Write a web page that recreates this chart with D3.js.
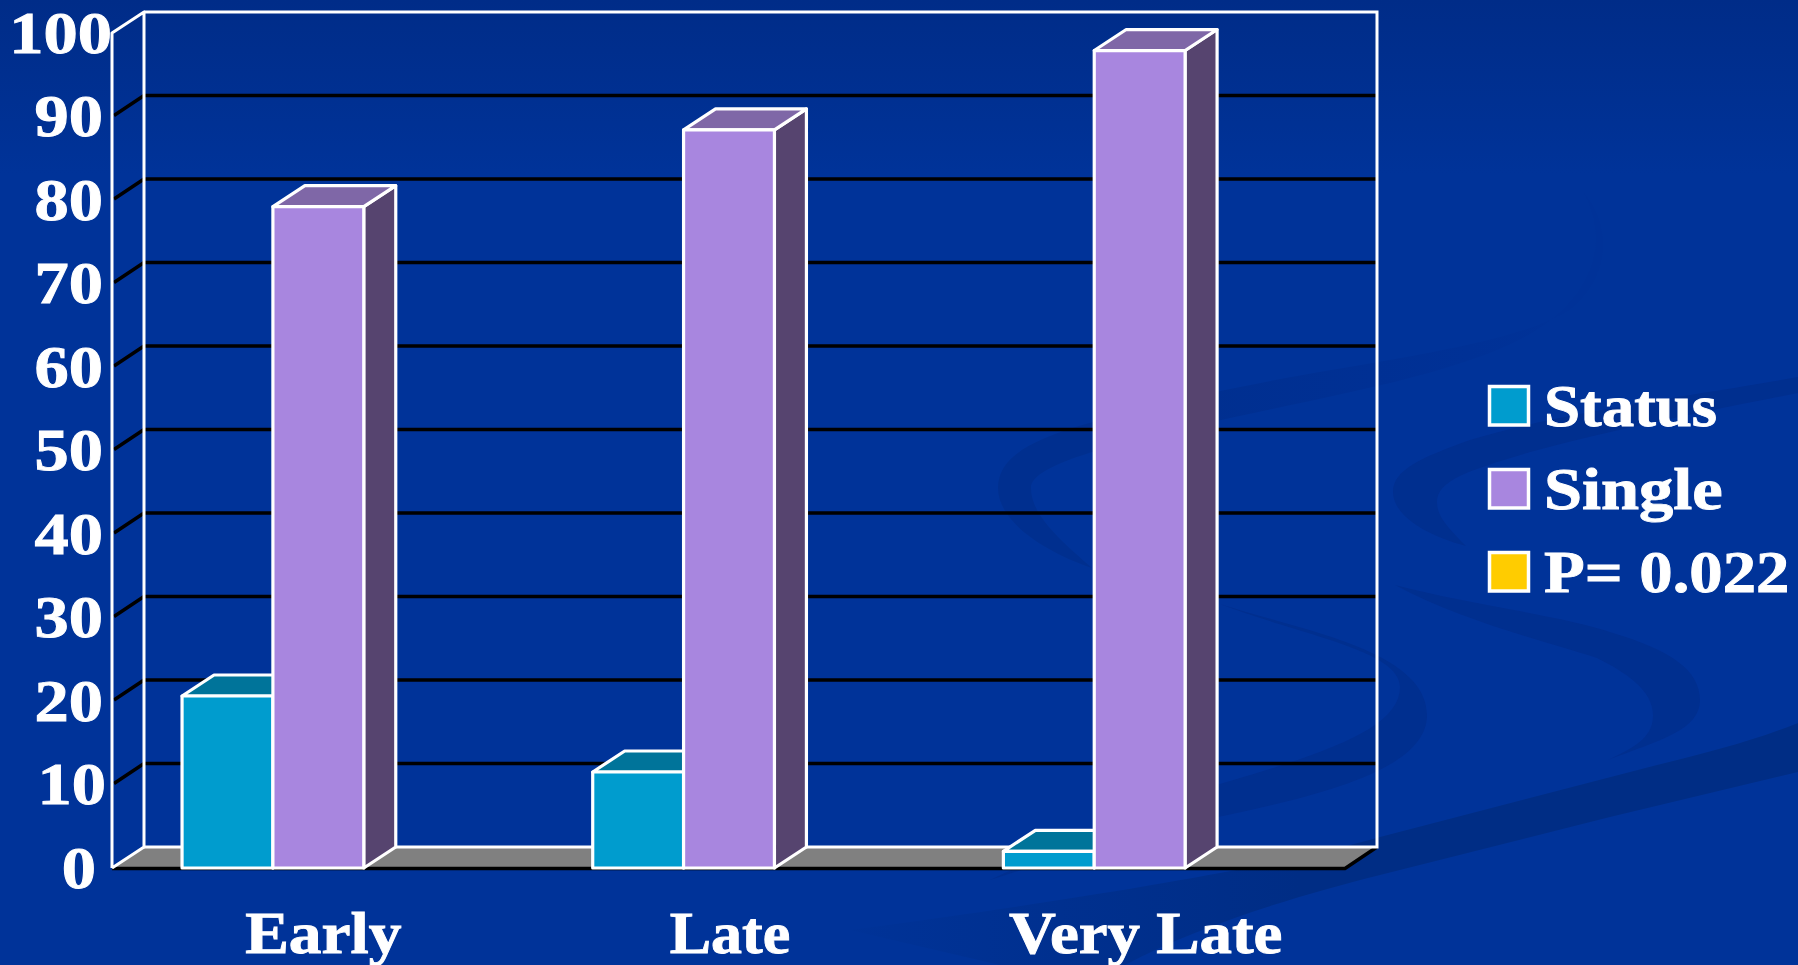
<!DOCTYPE html>
<html>
<head>
<meta charset="utf-8">
<script src="https://cdn.jsdelivr.net/npm/d3@7/dist/d3.min.js"></script>
<style>
html,body{margin:0;padding:0;background:#003399;overflow:hidden}
svg{display:block}
text{font-family:"Liberation Serif",serif;font-weight:bold;fill:#fff;stroke:#fff;stroke-width:0.9px}
</style>
</head>
<body>
<svg id="c" width="1798" height="965"></svg>
<script>
const categories = ["Early", "Late", "Very Late"];
const seriesNames = ["Status", "Single", "P= 0.022"];
const statusValues = [20.6, 11.5, 2];
const singleValues = [79.2, 88.4, 97.9];
const pValues = [null, null, null];
const tickValues = [0, 10, 20, 30, 40, 50, 60, 70, 80, 90, 100];
const frontColors = ["#009CCE", "#A886DF", "#FFCC00"];
const topColors = ["#00749A", "#7F67A7", "#BF9900"];
const sideColors = ["#00566F", "#56446F", "#806600"];

const svg = d3.select("#c");
const W = 1798, H = 965;
const depthX = 32, depthY = -21;
const frontLeft = 112, floorRight = 1345;
const y = d3.scaleLinear().domain([0, 100]).range([868, 33]);
const x0 = d3.scaleBand().domain(categories).range([frontLeft + 1, 1345]);
const x1 = d3.scaleBand().domain(seriesNames).range([0, x0.bandwidth()]).paddingInner(0).paddingOuter(0.76);
const valuesBySeries = [statusValues, singleValues, pValues];
const line = d3.line();

// background
const defs = svg.append("defs");
function grad(id, x1g, y1g, x2g, y2g, stops) {
  const g = defs.append("linearGradient").attr("id", id).attr("gradientUnits", "userSpaceOnUse")
    .attr("x1", x1g).attr("y1", y1g).attr("x2", x2g).attr("y2", y2g);
  stops.forEach(s => g.append("stop").attr("offset", s[0]).attr("stop-color", s[1]));
}
grad("bg", 0, 0, 0, H, [[0, "#002C88"], [0.18, "#003399"], [1, "#003399"]]);
grad("topFade", 1150, 0, 1560, 0, [[0, "#002F8F"], [0.55, "#003094"], [1, "#003298"]]);
grad("bandFade", 820, 0, 1300, 0, [[0, "#003399"], [1, "#002D85"]]);
svg.append("rect").attr("width", W).attr("height", H).attr("fill", "url(#bg)");

const swirlShapes = [
  // first loop: faint tip at upper right, round the left side, tapering out below
  ["M1582,190 C1612,225 1612,275 1570,310 C1500,352 1340,362 1180,400 C1080,425 998,440 998,488 C998,520 1040,550 1092,568 C1060,540 1031,515 1031,488 C1031,465 1110,445 1200,425 C1340,392 1500,370 1560,312 C1600,275 1605,230 1582,190 Z", "url(#topFade)"],
  // first crescent: thin start, wide turn, long tail to lower left
  ["M1220,604 C1300,630 1427,650 1427,715 C1427,775 1300,800 1180,825 C1110,845 1050,860 990,880 C1050,850 1130,825 1200,790 C1320,755 1400,730 1400,687 C1400,650 1300,635 1220,604 Z", "#002F8F"],
  // second loop: enters at the right edge, round the left side, tapering out below
  ["M1798,377 C1700,395 1560,412 1470,440 C1420,458 1393,470 1393,492 C1393,515 1425,535 1466,546 C1445,525 1437,515 1437,502 C1437,480 1470,470 1530,452 C1600,433 1700,412 1798,393 Z", "#002F8F"],
  // second crescent: thin start, wide turn, tip
  ["M1395,585 C1470,605 1560,615 1613,633 C1670,650 1700,670 1700,700 C1700,730 1660,740 1608,760 C1640,745 1653,735 1653,715 C1653,690 1625,672 1597,658 C1540,640 1460,620 1395,585 Z", "#002F8F"],
];
svg.selectAll("path.swirl").data(swirlShapes).join("path").attr("class", "swirl").attr("d", d => d[0]).attr("fill", d => d[1]);
svg.append("path")
  .attr("d", "M1798,723 C1750,742 1710,752 1657,765 L1380,837 C1300,860 1150,890 850,930 L1000,965 L1125,965 C1200,925 1300,895 1380,875 L1610,817 L1798,772 Z")
  .attr("fill", "url(#bandFade)");

// floor
const floorBack = y(0) + depthY;
svg.append("path").attr("d", line([[frontLeft, y(0)], [frontLeft + depthX, floorBack], [frontLeft + depthX + (floorRight - frontLeft), floorBack], [floorRight, y(0)]]) + "Z")
  .attr("fill", "#808080");
svg.append("path").attr("d", line([[frontLeft, y(0) + 0.5], [floorRight, y(0) + 0.5], [floorRight + depthX, floorBack]]))
  .attr("fill", "none").attr("stroke", "#000").attr("stroke-width", 3.5);

// gridlines
const gridVals = tickValues.filter(v => v > 0 && v < 100);
svg.selectAll("path.grid").data(gridVals).join("path").attr("class", "grid")
  .attr("d", v => line([[frontLeft + 2, y(v) - 1], [frontLeft + depthX, y(v) + depthY], [floorRight + depthX, y(v) + depthY]]))
  .attr("fill", "none").attr("stroke", "#000").attr("stroke-width", 3.5);

// walls frame
const frameTop = y(100);
svg.append("path")
  .attr("d", line([[frontLeft, y(0)], [frontLeft, frameTop], [frontLeft + depthX, frameTop + depthY], [frontLeft + depthX, floorBack], [frontLeft, y(0)]]))
  .attr("fill", "none").attr("stroke", "#fff").attr("stroke-width", 3).attr("stroke-linejoin", "round");
svg.append("path")
  .attr("d", line([[frontLeft + depthX, frameTop + depthY], [floorRight + depthX, frameTop + depthY], [floorRight + depthX, floorBack], [frontLeft + depthX, floorBack]]))
  .attr("fill", "none").attr("stroke", "#fff").attr("stroke-width", 3);

// bars
const barW = x1.bandwidth();
const barStroke = sel => sel.attr("stroke", "#fff").attr("stroke-width", 3.2).attr("stroke-linejoin", "round");
seriesNames.forEach((name, si) => {
  categories.forEach((cat, ci) => {
    const v = valuesBySeries[si][ci];
    if (v == null) return;
    const left = x0(cat) + x1(name), right = left + barW, top = y(v), bot = y(0);
    const bar = svg.append("g");
    bar.append("path").attr("d", line([[right, bot], [right + depthX, bot + depthY], [right + depthX, top + depthY], [right, top]]) + "Z")
      .attr("fill", sideColors[si]).call(barStroke);
    bar.append("path").attr("d", line([[left, top], [left + depthX, top + depthY], [right + depthX, top + depthY], [right, top]]) + "Z")
      .attr("fill", topColors[si]).call(barStroke);
    bar.append("rect").attr("x", left).attr("y", top).attr("width", barW).attr("height", bot - top)
      .attr("fill", frontColors[si]).call(barStroke);
  });
});

// y axis labels
const stretch = 1.16;
const labelEnd = v => v === 100 ? 112 : v === 10 ? 106 : v === 0 ? 96 : 103;
const axis = d3.axisLeft(y).tickValues(tickValues).tickFormat(d3.format("d")).tickSize(0);
const axG = svg.append("g").call(axis);
axG.select(".domain").remove();
axG.selectAll("text")
  .attr("font-size", 59).attr("font-family", null).attr("fill", "#fff")
  .attr("text-anchor", "end").attr("dy", null).attr("y", 19)
  .attr("x", d => labelEnd(d) / stretch)
  .attr("transform", `scale(${stretch},1)`);

// category labels
const catStretch = { "Early": 1.11, "Late": 1.05, "Very Late": 1.1 };
const catShift = { "Early": 5, "Late": 1, "Very Late": 6 };
svg.selectAll("text.cat").data(categories).join("text").attr("class", "cat")
  .attr("text-anchor", "middle").attr("font-size", 59)
  .attr("transform", d => `translate(${x0(d) + x0.bandwidth() / 2 + catShift[d]},953) scale(${catStretch[d]},1)`)
  .text(d => d);

// legend
const legendStretch = { "Status": 1.1, "Single": 1.16, "P= 0.022": 1.13 };
const legendY = d3.scalePoint().domain(seriesNames).range([385, 551]);
const lg = svg.selectAll("g.lg").data(seriesNames).join("g").attr("class", "lg")
  .attr("transform", d => `translate(0,${legendY(d)})`);
lg.append("rect").attr("x", 1489.5).attr("y", 1.5).attr("width", 39).attr("height", 38.5)
  .attr("fill", (d, i) => frontColors[i]).attr("stroke", "#fff").attr("stroke-width", 3.5);
lg.append("text").attr("font-size", 59)
  .attr("transform", d => `translate(1544,41) scale(${legendStretch[d]},1)`)
  .text(d => d);
</script>
</body>
</html>
